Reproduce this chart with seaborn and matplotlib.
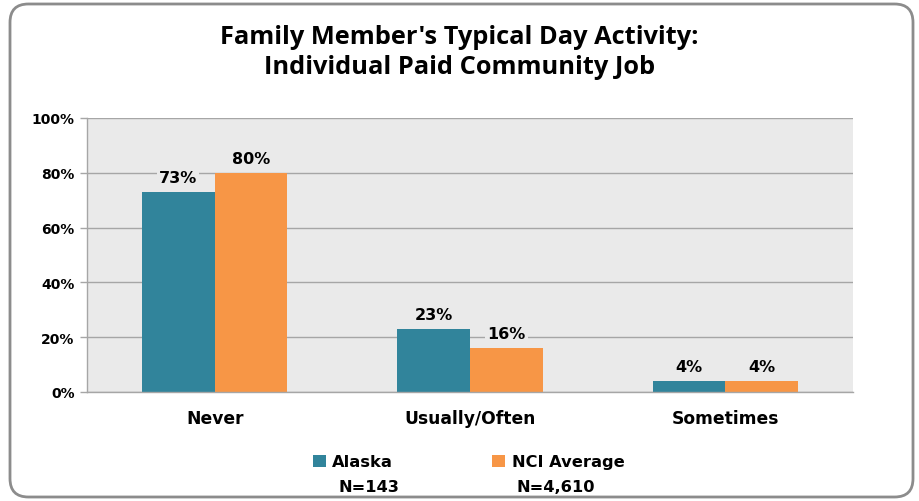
import matplotlib
matplotlib.use("Agg")
import matplotlib.pyplot as plt
from matplotlib.patches import FancyBboxPatch, Patch
import seaborn as sns
import pandas as pd

categories = ["Never", "Usually/Often", "Sometimes"]
series_names = ["Alaska", "NCI Average"]
series_n = ["N=143", "N=4,610"]
alaska = [73, 23, 4]
nci = [80, 16, 4]
yticks = [0, 20, 40, 60, 80, 100]
title_lines = ["Family Member's Typical Day Activity:", "Individual Paid Community Job"]

colors = ["#31849B", "#F79646"]

df = pd.DataFrame({
    "Category": categories * 2,
    "Series": [series_names[0]] * 3 + [series_names[1]] * 3,
    "Value": alaska + nci,
})

sns.set_theme(style="white")
plt.rcParams["font.family"] = ["DejaVu Sans"]
plt.rcParams["text.color"] = "black"
plt.rcParams["xtick.color"] = "black"
plt.rcParams["ytick.color"] = "black"

fig = plt.figure(figsize=(9.19, 5.02), dpi=100)
ax = fig.add_axes([87/919, 1-393/502, (853-87)/919, (393-119)/502])

sns.barplot(data=df, x="Category", y="Value", hue="Series", order=categories,
            hue_order=series_names, palette=colors, width=0.57, gap=0,
            saturation=1, ax=ax, legend=False, edgecolor="none", linewidth=0)

ax.set_facecolor("#EAEAEA")
ax.set_ylim(0, 100)
ax.set_xlim(-0.5, 2.5)
ax.set_yticks(yticks)
ax.set_yticklabels([f"{v}%" for v in yticks], fontsize=10, fontweight="bold")
ax.yaxis.grid(True, color="#A6A6A6", linewidth=1)
ax.set_axisbelow(True)
ax.set_xlabel("")
ax.set_ylabel("")
ax.set_xticks(range(3))
ax.set_xticklabels(categories, fontsize=12.3, fontweight="bold")
ax.set_xticks([-0.5, 0.5, 1.5, 2.5], minor=True)
ax.tick_params(axis="x", which="major", length=0, pad=12)
ax.tick_params(axis="x", which="minor", length=5, color="#A6A6A6", width=1, direction="out")
ax.tick_params(axis="y", length=5, color="#A6A6A6", labelcolor="black", width=1, direction="out", left=True, pad=4)
ax.tick_params(axis="x", labelcolor="black")
for s in ["top", "right"]:
    ax.spines[s].set_visible(False)
for s in ["left", "bottom"]:
    ax.spines[s].set_color("#A6A6A6")
    ax.spines[s].set_linewidth(1)

for cont in ax.containers:
    labels = ax.bar_label(cont, labels=[f"{int(round(v))}%" for v in cont.datavalues],
                          padding=5, fontsize=11.5, fontweight="bold", color="black")
    for t in labels:
        t.set_bbox(dict(facecolor="#EAEAEA", edgecolor="none", pad=1.5))

fig.text(0.5, 1-37/502, title_lines[0], ha="center", va="center",
         fontsize=18.3, fontweight="bold", family="Open Sans", color="black")
fig.text(0.5, 1-68/502, title_lines[1], ha="center", va="center",
         fontsize=18.3, fontweight="bold", family="Open Sans", color="black")

handles = [Patch(facecolor=c, edgecolor="none") for c in colors]
leg = fig.legend(handles, series_names, loc="center left", bbox_to_anchor=(298/919, 1-463/502),
                 ncol=2, frameon=False, prop={"weight": "bold", "size": 11.7},
                 handlelength=0.8, handleheight=0.8, handletextpad=0.4, columnspacing=6.1)
for t in leg.get_texts():
    t.set_color("black")
fig.text(338/919, 1-488/502, series_n[0], ha="left", va="center", fontsize=11.7, fontweight="bold", color="black")
fig.text(517/919, 1-488/502, series_n[1], ha="left", va="center", fontsize=11.7, fontweight="bold", color="black")

border = FancyBboxPatch((10/919, 4/502), 903/919, 493/502, boxstyle="round,pad=0,rounding_size=0.02",
                        transform=fig.transFigure, facecolor="none", edgecolor="#8C8C8C",
                        linewidth=2, mutation_aspect=919/502)
fig.patches.append(border)

fig.savefig("out.png", dpi=100)
